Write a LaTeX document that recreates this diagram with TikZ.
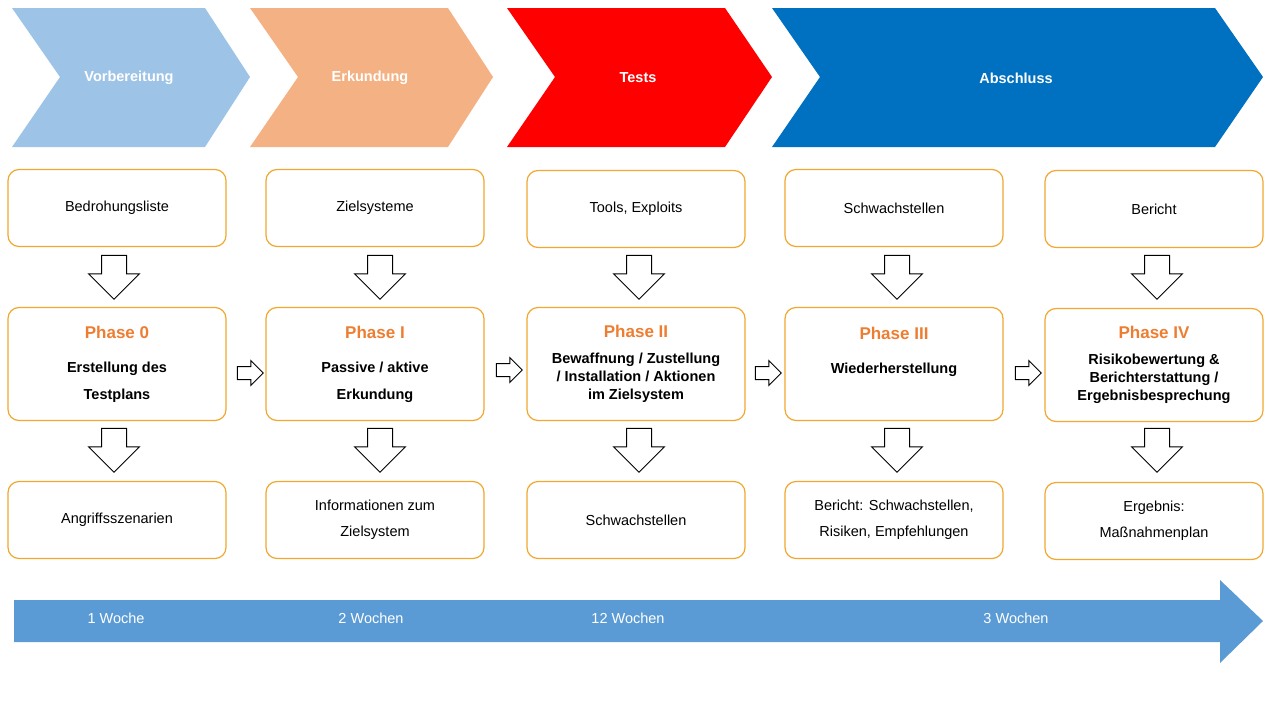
\documentclass[tikz,border=0pt]{standalone}
\usepackage{fontspec}
\setmainfont{Liberation Sans}
\usetikzlibrary{positioning, shapes.arrows}
\definecolor{vorb}{HTML}{9DC3E6}
\definecolor{erk}{HTML}{F4B183}
\definecolor{absch}{HTML}{0070C0}
\definecolor{rahmen}{HTML}{F0A830}
\definecolor{phasec}{HTML}{ED7D31}
\definecolor{zeit}{HTML}{5B9BD5}

\begin{document}
\begin{tikzpicture}[x=1pt, y=-1pt, font=\fontsize{14.5pt}{20pt}\selectfont,
  box/.style={draw=rahmen, line width=1.2pt, rounded corners=11pt, minimum width=218pt, minimum height=77pt, align=center},
  phase/.style={box, minimum height=113pt, font=\fontsize{14.5pt}{18pt}\selectfont\bfseries},
  down/.style={single arrow, draw, line width=1pt, fill=white, inner sep=12pt, single arrow head extend=13pt, minimum height=44pt, shape border rotate=270},
  rightarr/.style={single arrow, draw, line width=1pt, fill=white, inner sep=6pt, single arrow head extend=6pt, minimum height=26pt},
  chev/.style={font=\fontsize{14.5pt}{16pt}\selectfont\bfseries, text=white}]
  \useasboundingbox (0,0) rectangle (1280,720);

  % Kopfzeile
  \fill[vorb] (12,8) -- (205,8) -- (250,77) -- (205,147) -- (12,147) -- (60,77) -- cycle;
  \fill[erk] (250,8) -- (448,8) -- (493,77) -- (448,147) -- (250,147) -- (298,77) -- cycle;
  \fill[red] (507,8) -- (725,8) -- (772,77) -- (725,147) -- (507,147) -- (555,77) -- cycle;
  \fill[absch] (772,8) -- (1215,8) -- (1263,77) -- (1215,147) -- (772,147) -- (820,77) -- cycle;
  \node[chev] (vorbereitung) at (129,78) {Vorbereitung};
  \node[chev] (erkundung) at (370,78) {Erkundung};
  \node[chev] (tests) at (638,78) {Tests};
  \node[chev] (abschluss) at (1016,78) {Abschluss};

  % Eingaben
  \node[box] (in0) at (117,208) {Bedrohungsliste};
  \node[box] (in1) at (375,208) {Zielsysteme};
  \node[box] (in2) at (636,209) {Tools, Exploits};
  \node[box] (in3) at (894,208) {Schwachstellen};
  \node[box] (in4) at (1154,209) {Bericht};

  % Phasen
  \node[phase] (ph0) at (117,364) {{\fontsize{17pt}{18pt}\selectfont\color{phasec}Phase 0}\\[16pt]Erstellung des\\[9pt]Testplans};
  \node[phase] (ph1) at (375,364) {{\fontsize{17pt}{18pt}\selectfont\color{phasec}Phase I}\\[16pt]Passive / aktive\\[9pt]Erkundung};
  \node[phase] (ph2) at (636,364) {{\fontsize{17pt}{18pt}\selectfont\color{phasec}Phase II}\\[8pt]Bewaffnung / Zustellung\\/ Installation / Aktionen\\im Zielsystem};
  \node[phase] (ph3) at (894,364) {{\fontsize{17pt}{18pt}\selectfont\color{phasec}Phase III}\\[16pt]Wiederherstellung\\[4pt]\strut};
  \node[phase] (ph4) at (1154,365) {{\fontsize{17pt}{18pt}\selectfont\color{phasec}Phase IV}\\[8pt]Risikobewertung \&\\Berichterstattung /\\Ergebnisbesprechung};

  % Ergebnisse
  \node[box] (out0) at (117,520) {Angriffsszenarien};
  \node[box] (out1) at (375,520) {Informationen zum\\[6pt]Zielsystem};
  \node[box] (out2) at (636,520) {Schwachstellen};
  \node[box] (out3) at (894,520) {Bericht: Schwachstellen,\\[6pt]Risiken, Empfehlungen};
  \node[box] (out4) at (1154,521) {Ergebnis:\\[6pt]Maßnahmenplan};

  % Pfeile
  \foreach \i/\x in {0/114, 1/380, 2/639, 3/897, 4/1157} {
    \node[down] (d\i) at (\x,271) {};
    \node[down] (e\i) at (\x,444) {};
  }
  \node[rightarr] (r0) at (247,373) {};
  \node[rightarr] (r1) at (506,370) {};
  \node[rightarr] (r2) at (765,373) {};
  \node[rightarr] (r3) at (1025,373) {};

  % Zeitachse
  \fill[zeit] (14,600) -- (1220,600) -- (1220,580) -- (1263,621) -- (1220,663) -- (1220,642) -- (14,642) -- cycle;
  \node[text=white] (w1) at (116,618) {1 Woche};
  \node[text=white] (w2) at (371,618) {2 Wochen};
  \node[text=white] (w3) at (628,618) {12 Wochen};
  \node[text=white] (w4) at (1016,618) {3 Wochen};
\end{tikzpicture}
\end{document}
